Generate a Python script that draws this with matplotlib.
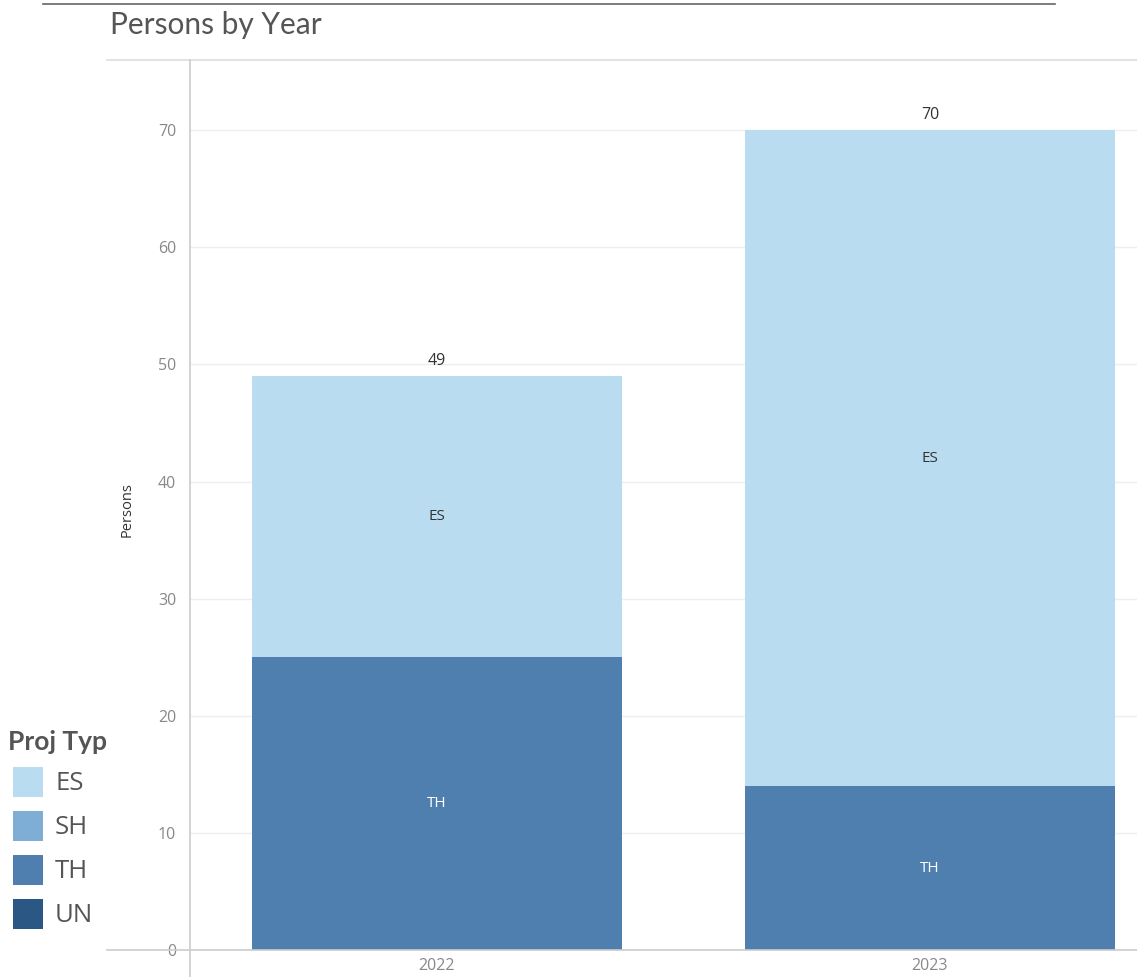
import matplotlib
matplotlib.use('Agg')
import matplotlib.pyplot as plt
from matplotlib.lines import Line2D
from matplotlib.patches import Rectangle

plt.rcParams['font.family'] = ['Lato', 'DejaVu Sans']

years = ['2022', '2023']
th_values = [25, 14]
es_values = [24, 56]
legend_types = ['ES', 'SH', 'TH', 'UN']
legend_colors = ['#b9dcf0', '#7eadd5', '#4e7fae', '#2a5783']

fig = plt.figure(figsize=(11.37, 9.77), dpi=100)
W, H = 1137, 977

def fx(px):
    return px / W

def fy(py):
    return 1 - py / H

ax = fig.add_axes([fx(190), fy(950), 1 - fx(190), fy(60) - fy(950)])

x = list(range(len(years)))
ax.bar(x, th_values, width=0.75, color='#4e7fae', zorder=2)
ax.bar(x, es_values, width=0.75, bottom=th_values, color='#b9dcf0', zorder=2)

for i in x:
    ax.text(i, th_values[i] / 2, 'TH', ha='center', va='center',
            fontsize=11, color='white', family=['Open Sans', 'DejaVu Sans'])
    ax.text(i, th_values[i] + es_values[i] / 2, 'ES', ha='center', va='center',
            fontsize=11, color='#333333', family=['Open Sans', 'DejaVu Sans'])
    total = th_values[i] + es_values[i]
    ax.text(i, total + 0.6, str(total), ha='center', va='bottom',
            fontsize=11.5, color='#333333', family=['Open Sans', 'DejaVu Sans'])

ax.set_xlim(-0.501, 1.42)
ax.set_ylim(0, 76)
ax.set_yticks(range(0, 71, 10))
ax.set_xticks(x)
ax.set_xticklabels(years)
ax.tick_params(axis='both', length=0, labelsize=11.5, labelcolor='#888888')
ax.tick_params(axis='y', pad=10)
ax.tick_params(axis='x', pad=6)
for lab in ax.get_xticklabels() + ax.get_yticklabels():
    lab.set_family(['Open Sans', 'DejaVu Sans'])
ax.grid(axis='y', color='#eeeeee', linewidth=1, zorder=0)
for s in ax.spines.values():
    s.set_visible(False)

ax.set_ylabel('Persons', fontsize=10.5, color='#333333',
              family=['Open Sans', 'DejaVu Sans'])
ax.yaxis.set_label_coords(-(190 - 135) / (W - 190), (950 - 510) / (950 - 60))

# pane border lines
fig.add_artist(Line2D([fx(43), fx(1055)], [fy(4), fy(4)], color='#666666', lw=1.2))
fig.add_artist(Line2D([fx(107), 1], [fy(60), fy(60)], color='#dddddd', lw=1.2))
fig.add_artist(Line2D([fx(107), 1], [fy(950), fy(950)], color='#cccccc', lw=1.2))
fig.add_artist(Line2D([fx(190), fx(190)], [fy(60), 0], color='#cccccc', lw=1.2))

fig.text(fx(110), fy(25), 'Persons by Year', fontsize=21.5, color='#555555',
         ha='left', va='center')

# legend
fig.text(fx(8), fy(742), 'Proj Typ', fontsize=19, fontweight='bold',
         color='#555555', ha='left', va='center')
for k, (name, col) in enumerate(zip(legend_types, legend_colors)):
    cy = 782 + k * 44
    fig.add_artist(Rectangle((fx(13), fy(cy + 15)), fx(30), fy(0) - fy(30),
                             facecolor=col, edgecolor='none',
                             transform=fig.transFigure))
    fig.text(fx(55), fy(cy + 1), name, fontsize=18.5, color='#555555',
             ha='left', va='center', family=['Open Sans', 'DejaVu Sans'])

fig.savefig('out.png', dpi=100, facecolor='white')
